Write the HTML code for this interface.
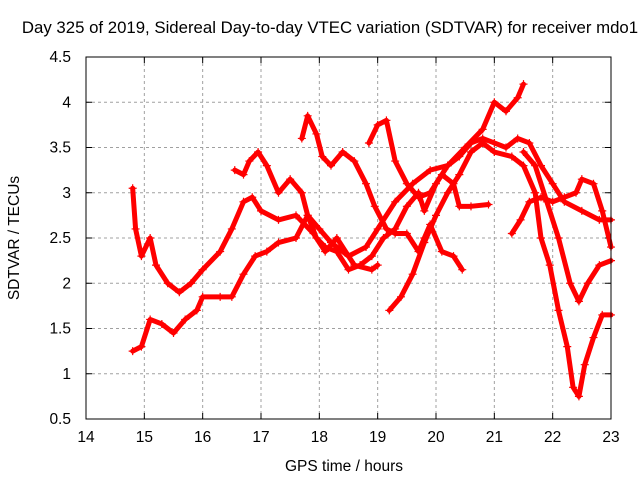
<!DOCTYPE html>
<html><head><meta charset="utf-8"><style>
body{margin:0;background:#fff;}
svg text{font-family:"Liberation Sans",sans-serif;font-size:15.5px;fill:#000;}
</style></head><body>
<svg id="chart" width="640" height="480" xmlns="http://www.w3.org/2000/svg">
<rect width="640" height="480" fill="#fff"/>
<text x="330" y="33" text-anchor="middle" style="font-size:16.8px">Day 325 of 2019, Sidereal Day-to-day VTEC variation (SDTVAR) for receiver mdo1</text>
<g id="grid"></g>
<g id="ticks"></g>
<g id="series"></g>
<rect x="86" y="57" width="525" height="362" fill="none" stroke="#000" stroke-width="1"/>
<text x="344" y="471" text-anchor="middle">GPS time / hours</text>
<text transform="translate(19,238) rotate(-90)" text-anchor="middle">SDTVAR / TECUs</text>
</svg>
<script>
const xTicks=[14,15,16,17,18,19,20,21,22,23];
const yTicks=[0.5,1,1.5,2,2.5,3,3.5,4,4.5];
const s1=[[14.8,3.05],[14.85,2.6],[14.95,2.3],[15.1,2.5],[15.2,2.2],[15.4,2.0],[15.6,1.9],[15.8,2.0],[16.0,2.15],[16.3,2.35],[16.5,2.6],[16.7,2.9],[16.85,2.95],[17.0,2.8],[17.3,2.7],[17.6,2.75],[17.9,2.55],[18.1,2.35],[18.3,2.5],[18.6,2.2],[18.9,2.15],[19.0,2.2]];
const s2=[[14.8,1.25],[14.95,1.3],[15.1,1.6],[15.3,1.55],[15.5,1.45],[15.7,1.6],[15.9,1.7],[16.0,1.85],[16.3,1.85],[16.5,1.85],[16.7,2.1],[16.9,2.3],[17.1,2.35],[17.3,2.45],[17.6,2.5],[17.8,2.75],[18.0,2.6],[18.2,2.45],[18.5,2.3],[18.8,2.4],[19.0,2.6],[19.3,2.9],[19.6,3.1],[19.9,3.25],[20.2,3.3],[20.5,3.5],[20.8,3.7],[21.0,4.0],[21.2,3.9],[21.4,4.05],[21.5,4.2]];
const s3=[[16.55,3.25],[16.7,3.2],[16.8,3.35],[16.95,3.45],[17.1,3.3],[17.3,3.0],[17.5,3.15],[17.7,3.0],[17.8,2.75],[17.95,2.5],[18.1,2.4],[18.3,2.35],[18.5,2.15],[18.7,2.2],[18.9,2.3],[19.1,2.5],[19.3,2.6],[19.5,2.85],[19.7,3.0],[19.8,2.8],[20.0,3.1],[20.2,3.3],[20.4,3.4],[20.6,3.55],[20.8,3.6],[21.0,3.55],[21.2,3.5],[21.4,3.6],[21.6,3.55],[21.8,3.3],[22.0,3.1],[22.2,2.9],[22.5,2.8],[22.8,2.7],[23.0,2.7]];
const s4=[[17.7,3.6],[17.8,3.85],[17.95,3.65],[18.05,3.4],[18.2,3.3],[18.4,3.45],[18.6,3.35],[18.8,3.1],[18.95,2.85],[19.15,2.6],[19.3,2.55],[19.5,2.55],[19.7,2.35],[19.8,2.5],[19.9,2.65],[20.1,2.35],[20.3,2.3],[20.45,2.15]];
const s5=[[18.85,3.55],[19.0,3.75],[19.15,3.8],[19.3,3.35],[19.5,3.1],[19.7,2.95],[19.9,3.0],[20.1,3.2],[20.3,3.1],[20.4,2.85],[20.6,2.85],[20.9,2.87]];
const s6=[[19.2,1.7],[19.4,1.85],[19.6,2.1],[19.8,2.45],[20.0,2.75],[20.2,3.0],[20.4,3.2],[20.6,3.45],[20.8,3.55],[21.0,3.45],[21.3,3.4],[21.5,3.3],[21.7,3.0],[21.8,2.5],[21.95,2.2],[22.1,1.7],[22.25,1.3],[22.35,0.85],[22.45,0.75],[22.55,1.1],[22.7,1.4],[22.85,1.65],[23.0,1.65]];
const s7=[[21.3,2.55],[21.45,2.7],[21.6,2.9],[21.8,2.95],[22.0,2.9],[22.2,2.95],[22.4,3.0],[22.5,3.15],[22.7,3.1],[22.85,2.8],[23.0,2.4]];
const s8=[[21.5,3.45],[21.7,3.3],[21.9,2.9],[22.1,2.5],[22.3,2.0],[22.45,1.8],[22.6,2.0],[22.8,2.2],[23.0,2.25]];
const allSeries=[s1,s2,s3,s4,s5,s6,s7,s8];
const X=t=>86+(t-14)*525/9;
const Y=v=>419-(v-0.5)*362/4;
const NS="http://www.w3.org/2000/svg";
const grid=document.getElementById('grid'),ticks=document.getElementById('ticks'),ser=document.getElementById('series');
function mk(tag,attrs,parent){const e=document.createElementNS(NS,tag);for(const k in attrs)e.setAttribute(k,attrs[k]);parent.appendChild(e);return e;}
xTicks.forEach(t=>{
 const x=X(t);
 if(t>14&&t<23){const g=mk('line',{x1:x,x2:x,y1:57,y2:419,stroke:'#a0a0a0','stroke-dasharray':'3,3'},grid);
 
 }
 mk('line',{x1:x,x2:x,y1:419,y2:413,stroke:'#000'},ticks);
 mk('line',{x1:x,x2:x,y1:57,y2:63,stroke:'#000'},ticks);
 const tx=mk('text',{x:x,y:442,'text-anchor':'middle'},ticks);tx.textContent=t;
 
 
});
yTicks.forEach(v=>{
 const y=Y(v);
 if(v>0.5&&v<4.5){const g=mk('line',{x1:86,x2:611,y1:y,y2:y,stroke:'#a0a0a0','stroke-dasharray':'3,3'},grid);
 
 }
 mk('line',{x1:86,x2:92,y1:y,y2:y,stroke:'#000'},ticks);
 mk('line',{x1:611,x2:605,y1:y,y2:y,stroke:'#000'},ticks);
 const tx=mk('text',{x:71,y:y+5,'text-anchor':'end'},ticks);tx.textContent=v;
 
 
});
allSeries.forEach((s,i)=>{
 const pl=mk('polyline',{points:s.map(p=>X(p[0])+','+Y(p[1])).join(' '),fill:'none',stroke:'#ff0000','stroke-width':5,'stroke-linejoin':'round','stroke-linecap':'round'},ser);
 
 
 s.forEach(p=>{
  const x=X(p[0]),y=Y(p[1]);
  const m=mk('path',{d:`M${x-4},${y}H${x+4}M${x},${y-4}V${y+4}`,stroke:'#ff0000','stroke-width':1.2},ser);
  
  
 });
});
</script>
</body></html>
